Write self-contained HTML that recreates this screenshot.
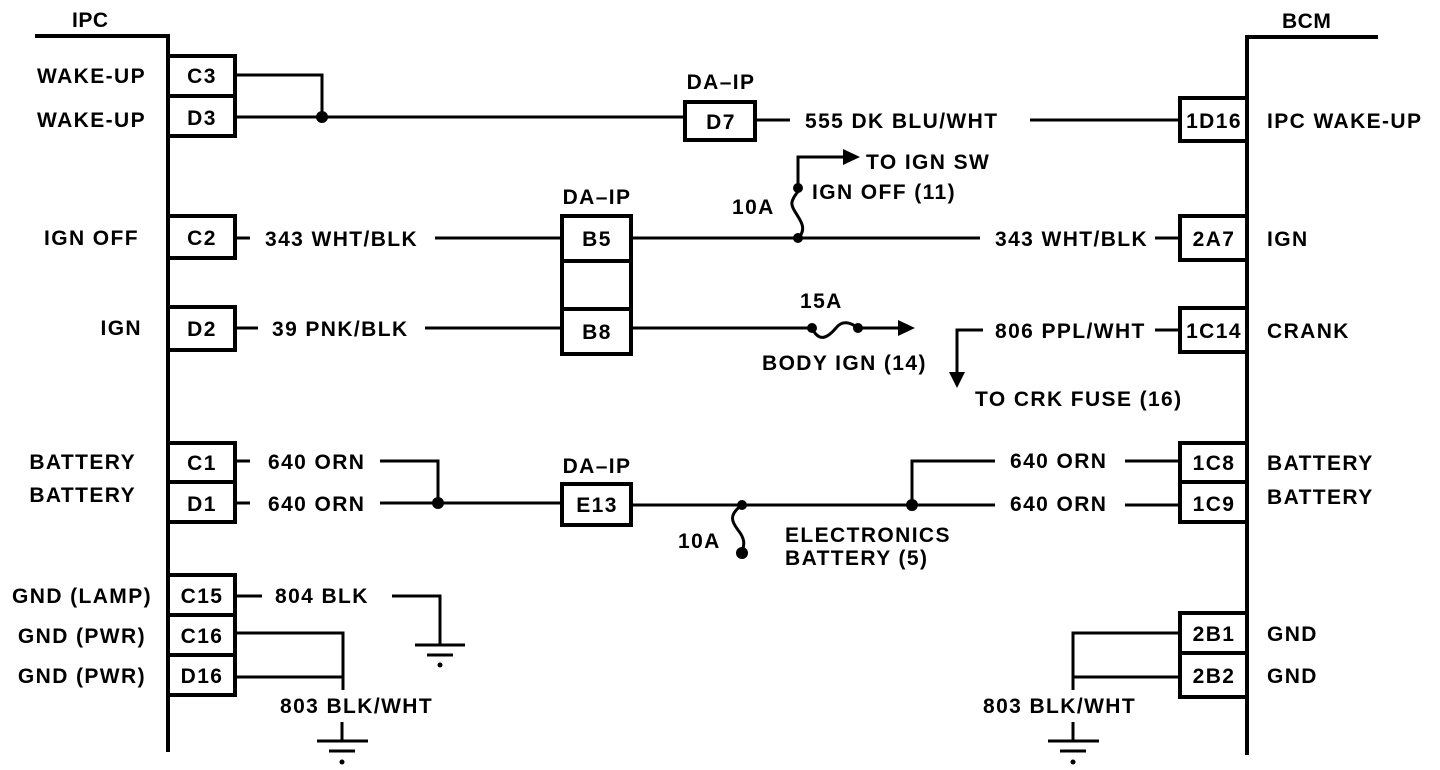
<!DOCTYPE html>
<html><head><meta charset="utf-8"><style>
html,body{margin:0;padding:0;background:#fff;}
svg{display:block;}
text{font-family:"Liberation Sans",Arial,sans-serif;font-weight:bold;font-size:21px;letter-spacing:1.4px;fill:#000;}
</style></head><body>
<svg width="1440" height="770" viewBox="0 0 1440 770" xmlns="http://www.w3.org/2000/svg">
<g stroke="#000" fill="none" stroke-width="3">
<polyline points="35,36 168,36 168,752" stroke-width="4"/>
<polyline points="1378,37 1247,37 1247,755" stroke-width="4"/>
<rect x="168" y="56" width="67" height="80" stroke-width="4"/><line x1="168" y1="96" x2="235" y2="96" stroke-width="4"/>
<rect x="168" y="216" width="67" height="42" stroke-width="4"/>
<rect x="168" y="307" width="67" height="43" stroke-width="4"/>
<rect x="168" y="443" width="67" height="79" stroke-width="4"/><line x1="168" y1="482" x2="235" y2="482" stroke-width="4"/>
<rect x="168" y="575" width="67" height="120" stroke-width="4"/><line x1="168" y1="615" x2="235" y2="615" stroke-width="4"/><line x1="168" y1="655" x2="235" y2="655" stroke-width="4"/>
<rect x="1180" y="98" width="67" height="43" stroke-width="4"/>
<rect x="1180" y="216" width="67" height="44" stroke-width="4"/>
<rect x="1180" y="308" width="67" height="44" stroke-width="4"/>
<rect x="1180" y="443" width="67" height="79" stroke-width="4"/><line x1="1180" y1="482" x2="1247" y2="482" stroke-width="4"/>
<rect x="1180" y="613" width="67" height="84" stroke-width="4"/><line x1="1180" y1="653" x2="1247" y2="653" stroke-width="4"/>
<rect x="685" y="102" width="70" height="38" stroke-width="4"/>
<rect x="562" y="216" width="69" height="138" stroke-width="4"/><line x1="562" y1="261" x2="631" y2="261" stroke-width="4"/><line x1="562" y1="309" x2="631" y2="309" stroke-width="4"/>
<rect x="562" y="484" width="69" height="41" stroke-width="4"/>
<polyline points="235,75 322,75 322,117"/>
<line x1="235" y1="117" x2="685" y2="117"/>
<line x1="755" y1="120" x2="790" y2="120"/>
<line x1="1030" y1="120" x2="1180" y2="120"/>
<line x1="235" y1="238" x2="250" y2="238"/>
<line x1="435" y1="238" x2="562" y2="238"/>
<line x1="631" y1="238" x2="980" y2="238"/>
<line x1="1155" y1="238" x2="1180" y2="238"/>
<path d="M798,238 C812,225 790,212 792,202 C794,194 800,192 798,188"/>
<polyline points="798,188 798,157 845,157"/>
<line x1="235" y1="328" x2="258" y2="328"/>
<line x1="425" y1="328" x2="562" y2="328"/>
<line x1="631" y1="328" x2="812" y2="328"/>
<path d="M812,328 C820,345 830,335 836,328 C842,320 850,322 858,328"/>
<line x1="858" y1="328" x2="900" y2="328"/>
<polyline points="983,330 957,330 957,375"/>
<line x1="1155" y1="330" x2="1180" y2="330"/>
<line x1="235" y1="461" x2="250" y2="461"/>
<line x1="235" y1="503" x2="250" y2="503"/>
<polyline points="380,461 438,461 438,503"/>
<line x1="380" y1="503" x2="562" y2="503"/>
<line x1="631" y1="505" x2="995" y2="505"/>
<polyline points="912,505 912,461 995,461"/>
<line x1="1125" y1="461" x2="1180" y2="461"/>
<line x1="1125" y1="505" x2="1180" y2="505"/>
<path d="M742,505 C728,515 732,522 738,530 C746,540 744,545 742,553"/>
<line x1="235" y1="596" x2="262" y2="596"/>
<polyline points="392,596 440,596 440,645"/>
<line x1="415" y1="645" x2="465" y2="645"/>
<line x1="427" y1="655" x2="453" y2="655"/>
<polyline points="235,633 343,633 343,690"/>
<line x1="235" y1="677" x2="343" y2="677"/>
<line x1="342" y1="722" x2="342" y2="741"/>
<line x1="317" y1="741" x2="368" y2="741"/>
<line x1="329" y1="751" x2="355" y2="751"/>
<polyline points="1180,633 1073,633 1073,690"/>
<line x1="1073" y1="677" x2="1180" y2="677"/>
<line x1="1073" y1="722" x2="1073" y2="741"/>
<line x1="1048" y1="741" x2="1099" y2="741"/>
<line x1="1060" y1="751" x2="1086" y2="751"/>
</g>
<g fill="#000">
<circle cx="322" cy="117" r="6"/>
<circle cx="798" cy="238" r="5"/><circle cx="798" cy="188" r="5"/>
<polygon points="843,149 860,157 843,165"/>
<circle cx="812" cy="328" r="5"/><circle cx="858" cy="328" r="5"/>
<polygon points="898,320 915,328 898,336"/>
<polygon points="949,372 965,372 957,388"/>
<circle cx="438" cy="503" r="6"/><circle cx="912" cy="505" r="6"/>
<circle cx="742" cy="505" r="5"/><circle cx="742" cy="553" r="6"/>
<circle cx="440" cy="665" r="2.5"/><circle cx="342" cy="762" r="2.5"/><circle cx="1073" cy="762" r="2.5"/>
</g>
<text x="72" y="27" font-size="24" style="letter-spacing:0.5px">IPC</text>
<text x="1282" y="28" font-size="24" style="letter-spacing:0.5px">BCM</text>
<g text-anchor="end">
<text x="146" y="83">WAKE-UP</text>
<text x="146" y="127">WAKE-UP</text>
<text x="139" y="245">IGN OFF</text>
<text x="142" y="335">IGN</text>
<text x="136" y="469">BATTERY</text>
<text x="136" y="502">BATTERY</text>
<text x="152" y="603">GND (LAMP)</text>
<text x="146" y="643">GND (PWR)</text>
<text x="146" y="683">GND (PWR)</text>
</g>
<g text-anchor="middle" style="letter-spacing:0.5px">
<text x="202" y="83">C3</text><text x="202" y="125">D3</text>
<text x="202" y="245">C2</text><text x="202" y="336">D2</text>
<text x="202" y="470">C1</text><text x="202" y="511">D1</text>
<text x="202" y="603">C15</text><text x="202" y="643">C16</text><text x="202" y="683">D16</text>
<text x="1214" y="128">1D16</text><text x="1214" y="246">2A7</text><text x="1214" y="338">1C14</text>
<text x="1214" y="470">1C8</text><text x="1214" y="511">1C9</text>
<text x="1214" y="641">2B1</text><text x="1214" y="683">2B2</text>
<text x="721" y="129">D7</text>
<text x="597" y="246">B5</text><text x="597" y="339">B8</text>
<text x="597" y="512">E13</text>
<text x="721" y="89">DA–IP</text>
<text x="597" y="204">DA–IP</text>
<text x="597" y="473">DA–IP</text>
</g>
<text x="805" y="128">555 DK BLU/WHT</text>
<text x="1267" y="128">IPC WAKE-UP</text>
<text x="866" y="169">TO IGN SW</text>
<text x="812" y="199">IGN OFF (11)</text>
<text x="732" y="214">10A</text>
<text x="265" y="246">343 WHT/BLK</text>
<text x="995" y="246">343 WHT/BLK</text>
<text x="1267" y="246">IGN</text>
<text x="800" y="308">15A</text>
<text x="272" y="336">39 PNK/BLK</text>
<text x="995" y="338">806 PPL/WHT</text>
<text x="1267" y="338">CRANK</text>
<text x="762" y="370">BODY IGN (14)</text>
<text x="975" y="406">TO CRK FUSE (16)</text>
<text x="268" y="469">640 ORN</text>
<text x="268" y="511">640 ORN</text>
<text x="1010" y="468">640 ORN</text>
<text x="1010" y="511">640 ORN</text>
<text x="1267" y="470">BATTERY</text>
<text x="1267" y="504">BATTERY</text>
<text x="678" y="548">10A</text>
<text x="785" y="542">ELECTRONICS</text>
<text x="785" y="565">BATTERY (5)</text>
<text x="275" y="603">804 BLK</text>
<text x="1267" y="641">GND</text>
<text x="1267" y="683">GND</text>
<text x="280" y="713">803 BLK/WHT</text>
<text x="983" y="713">803 BLK/WHT</text>
</svg>
</body></html>
